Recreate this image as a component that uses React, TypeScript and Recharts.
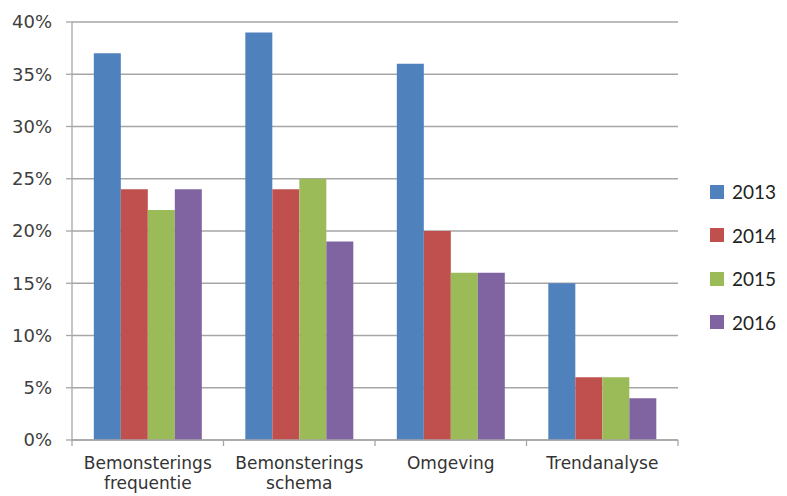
import React from "react";
import {
  BarChart,
  Bar,
  XAxis,
  YAxis,
  CartesianGrid,
  Legend,
} from "recharts";

const categories = [
  ["Bemonsterings", "frequentie"],
  ["Bemonsterings", "schema"],
  ["Omgeving"],
  ["Trendanalyse"],
];
const years = ["2013", "2014", "2015", "2016"];
const values2013 = [37, 39, 36, 15];
const values2014 = [24, 24, 20, 6];
const values2015 = [22, 25, 16, 6];
const values2016 = [24, 19, 16, 4];
const yTicks = [0, 5, 10, 15, 20, 25, 30, 35, 40];
const boundaryTicks = [0, 1, 2, 3, 4];

const colors = ["#4F81BD", "#C0504D", "#9BBB59", "#8064A2"];
const seriesValues = [values2013, values2014, values2015, values2016];

const data = categories.map((lines, i) => {
  const row: Record<string, any> = { name: lines.join(" "), lines, pos: i + 0.5 };
  years.forEach((y, s) => {
    row[y] = seriesValues[s][i];
  });
  return row;
});

const CategoryTick = (props: any) => {
  const { x, y, index } = props;
  const lines = categories[index] || [];
  return (
    <g transform={`translate(${x},${y})`}>
      {lines.map((t, i) => (
        <text
          key={i}
          x={0}
          y={28 + i * 20}
          textAnchor="middle"
          fill="#333333"
          fontSize={17}
          fontFamily="DejaVu Sans, sans-serif"
        >
          {t}
        </text>
      ))}
    </g>
  );
};

// Boundary ticks carry no label, only the tick line
const EmptyTick = () => <g />;

const LegendContent = () => (
  <div style={{ fontFamily: "Lato, sans-serif", fontSize: 19, color: "#222" }}>
    {years.map((y, i) => (
      <div
        key={y}
        style={{ display: "flex", alignItems: "center", height: 43.5 }}
      >
        <span
          style={{
            display: "inline-block",
            width: 14,
            height: 14,
            background: colors[i],
            marginRight: 8,
          }}
        />
        <span>{y}</span>
      </div>
    ))}
  </div>
);

export default function App() {
  return (
    <div style={{ position: "absolute", left: 0, top: 0, background: "#fff" }}>
      <BarChart
        width={787}
        height={496}
        data={data}
        margin={{ top: 22, right: 32, left: 0, bottom: 0 }}
        barCategoryGap="14.4%"
        barGap={0}
      >
        <CartesianGrid
          vertical={false}
          stroke="#a6a6a6"
          strokeWidth={1.3}
          yAxisId="y"
        />
        <XAxis
          xAxisId="bounds"
          type="number"
          dataKey="pos"
          domain={[0, 4]}
          ticks={boundaryTicks}
          height={1}
          tick={<EmptyTick />}
          tickSize={6}
          tickLine={{ stroke: "#a6a6a6", strokeWidth: 1.3 }}
          axisLine={{ stroke: "#a6a6a6", strokeWidth: 1.3 }}
        />
        <XAxis
          xAxisId="cat"
          dataKey="name"
          height={55}
          tickSize={0}
          tickMargin={0}
          tickLine={false}
          axisLine={false}
          tick={<CategoryTick />}
          interval={0}
        />
        <YAxis
          yAxisId="y"
          width={72}
          domain={[0, 40]}
          ticks={yTicks}
          tickFormatter={(v: number) => `${v}%`}
          tickSize={6}
          tickMargin={14}
          tickLine={{ stroke: "#a6a6a6", strokeWidth: 1.3 }}
          axisLine={{ stroke: "#a6a6a6", strokeWidth: 1.3 }}
          tick={{
            fill: "#404040",
            fontSize: 18,
            fontFamily: "DejaVu Sans, sans-serif",
          }}
        />
        <Legend
          layout="vertical"
          align="right"
          verticalAlign="top"
          content={<LegendContent />}
          wrapperStyle={{ left: 710, top: 170, width: 77 }}
        />
        {years.map((y, i) => (
          <Bar
            key={y}
            dataKey={y}
            xAxisId="cat"
            yAxisId="y"
            fill={colors[i]}
            isAnimationActive={false}
          />
        ))}
      </BarChart>
    </div>
  );
}
